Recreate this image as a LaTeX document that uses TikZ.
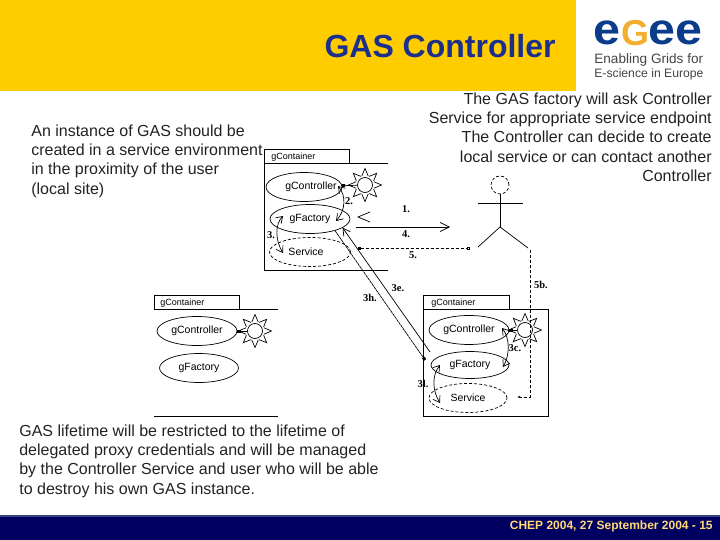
\documentclass[tikz,border=0pt]{standalone}
\usepackage{fontspec}
\setmainfont{Liberation Sans}
\newfontfamily\serifnum{Liberation Serif}
\usetikzlibrary{arrows.meta,shapes.geometric}
\definecolor{bandgold}{HTML}{FFCC00}
\definecolor{titleblue}{HTML}{1C2F8C}
\definecolor{footnavy}{HTML}{000060}
\definecolor{footline}{HTML}{3A3F86}
\definecolor{footgold}{HTML}{FFD878}
\definecolor{logoblue}{HTML}{0B3C8C}
\definecolor{logogold}{HTML}{F2AE30}
\definecolor{logogray}{HTML}{444444}
\definecolor{bodygray}{HTML}{222222}
\tikzset{
	bodytext/.style={font=\fontsize{16}{19.2}\selectfont,text=bodygray,inner sep=0pt},
	part/.style={draw,ellipse,minimum width=76pt,minimum height=29pt,inner sep=0pt,font=\fontsize{10.5}{12}\selectfont},
	partdash/.style={part,densely dashed},
	tabname/.style={anchor=west,inner sep=0pt,font=\fontsize{9}{10}\selectfont},
	steplabel/.style={inner sep=0pt,font=\serifnum\bfseries\fontsize{10.5}{12}\selectfont},
	sunball/.style={draw,circle,minimum size=15pt,inner sep=0pt},
	logoletter/.style={anchor=center,inner sep=0pt,font=\bfseries\fontsize{44}{44}\selectfont},
	logotext/.style={anchor=west,inner sep=0pt,text=logogray},
	barb/.style={-{Straight Barb[length=9pt,width=9pt]}},
	twobarb/.style={{Straight Barb[length=6pt,width=8pt]}-{Straight Barb[length=6pt,width=8pt]}}
}
\newcommand{\sunspikes}[1]{
	\foreach \a in {0,45,...,315}
		\draw[shift={(#1)}] (\a-20:9.5) -- (\a:16.5) -- (\a+20:9.5);
}
\begin{document}
\begin{tikzpicture}[x=1pt,y=-1pt,line width=0.7pt]
	\useasboundingbox (0,0) rectangle (720,540);
	% Kopf
	\fill[bandgold] (0,0) rectangle (576,91);
	\node[anchor=east,inner sep=0pt,text=titleblue,font=\bfseries\fontsize{32}{36}\selectfont] (title) at (556,46) {GAS Controller};
	% Logo
	\node[logoletter,text=logoblue,xscale=1.1] (logoA) at (607,33) {e};
	\node[logoletter,text=logogold,font=\bfseries\fontsize{36}{36}\selectfont] (logoB) at (635,33) {G};
	\node[logoletter,text=logoblue,xscale=1.1] (logoC) at (662,33) {e};
	\node[logoletter,text=logoblue,xscale=1.1] (logoD) at (689,33) {e};
	\node[logotext,font=\fontsize{13.6}{14}\selectfont] (logoE) at (594,60) {Enabling Grids for};
	\node[logotext,font=\fontsize{12.2}{14}\selectfont] (logoF) at (594,74) {E-science in Europe};
	% Texte
	\node[bodytext,anchor=north west,align=left] (textA) at (31,124.5) {An instance of GAS should be\\created in a service environment\\in the proximity of the user\\(local site)};
	\node[bodytext,anchor=north east,align=right] (textB) at (712,92.5) {The GAS factory will ask Controller\\Service for appropriate service endpoint\\The Controller can decide to create\\local service or can contact another\\Controller};
	\node[bodytext,anchor=north west,align=left] (textC) at (19,424.5) {GAS lifetime will be restricted to the lifetime of\\delegated proxy credentials and will be managed\\by the Controller Service and user who will be able\\to destroy his own GAS instance.};
	% Container
	\draw (264,270) -- (264,149) -- (349,149) -- (349,163);
	\draw (264,163) -- (388,163);
	\draw (264,270) -- (388,270);
	\draw (154,309) -- (154,295) -- (239,295) -- (239,309);
	\draw (154,309) -- (278,309);
	\draw (154,416) -- (278,416);
	\draw (423,309) -- (423,295) -- (509,295) -- (509,309);
	\draw (423,309) rectangle (548,416);
	\node[tabname] (tabA) at (271,157) {gContainer};
	\node[tabname] (tabB) at (160,303) {gContainer};
	\node[tabname] (tabC) at (431,303) {gContainer};
	% Ellipsen
	\node[part] (ctrlA) at (304,187) {\makebox[0pt]{\hspace{14pt}gController}};
	\node[part,minimum width=80pt] (factA) at (310,219) {gFactory};
	\node[partdash,minimum width=81pt] (servA) at (310,252) {\makebox[0pt]{\hspace{-8pt}Service}};
	\node[part,minimum width=80pt] (ctrlB) at (197,331) {gController};
	\node[part,minimum width=79pt] (factB) at (199,368) {gFactory};
	\node[part,minimum width=80pt] (ctrlC) at (469,330) {gController};
	\node[part,minimum width=78pt,minimum height=27pt] (factC) at (470,365) {gFactory};
	\node[partdash,minimum width=78pt] (servC) at (468,398) {Service};
	% Sonnen
	\node[sunball] (sunA) at (365,185) {};
	\node[sunball] (sunB) at (255,331) {};
	\node[sunball] (sunC) at (525,330) {};
	\sunspikes{365,185}
	\sunspikes{255,331}
	\sunspikes{525,330}
	\draw[-{Square[length=3pt]}] (sunA) -- (ctrlA);
	\draw[-{Square[length=3pt]}] (sunB) -- (ctrlB);
	\draw[-{Square[length=3pt]}] (sunC) -- (ctrlC);
	% Akteur
	\node[draw,densely dashed,circle,minimum size=18pt,inner sep=0pt] (head) at (500,185) {};
	\coordinate (hip) at (500,227);
	\coordinate (armL) at (478,203);
	\coordinate (armR) at (523,203);
	\coordinate (footL) at (478,247);
	\coordinate (footR) at (528,248);
	\draw (head) -- (hip);
	\draw (armL) -- (armR);
	\draw (footL) -- (hip) -- (footR);
	% Pfeile
	\coordinate (msgA) at (358,217);
	\coordinate (msgB) at (370,217);
	\coordinate (msgC) at (356,227);
	\coordinate (msgD) at (450,227);
	\coordinate (msgE) at (358,248);
	\coordinate (msgF) at (470,248);
	\draw (msgB)+(0,-5) -- (msgA) -- ++(12,5);
	\draw[barb] (msgC) -- (msgD);
	\draw[densely dashed,{Square[length=3pt]}-{Square[length=3pt,open]}] (msgE) -- (msgF);
	\coordinate (twoA) at (338,186);
	\coordinate (twoB) at (336,221);
	\coordinate (threeA) at (283,216);
	\coordinate (threeB) at (283,253);
	\coordinate (cA) at (502,328);
	\coordinate (cB) at (503,367);
	\coordinate (lA) at (440,365);
	\coordinate (lB) at (440,403);
	\draw[twobarb] (twoA) .. controls (346,195) and (346,210) .. (twoB);
	\draw[twobarb] (threeA) .. controls (275,224) and (275,240) .. (threeB);
	\draw[twobarb] (cA) .. controls (510,338) and (510,355) .. (cB);
	\draw[twobarb] (lA) .. controls (432,375) and (432,390) .. (lB);
	\coordinate (farB) at (425,360);
	\coordinate (farC) at (430,352);
	\draw[dash pattern=on 3pt off 0.6pt,-{Square[length=3pt]}] (factA.-25) -- (farB);
	\draw[{Straight Barb[length=7pt,width=8pt]}-] (factA.-15) -- (farC);
	% 5b
	\coordinate (legEnd) at (530,250);
	\coordinate (bendEnd) at (530,397);
	\coordinate (servEnd) at (517,397);
	\draw[densely dashed,-{Latex[length=3pt]}] (legEnd) -- (bendEnd) -- (servEnd);
	% Nummern
	\node[steplabel] (lblA) at (406,209) {1.};
	\node[steplabel] (lblB) at (349,201) {2.};
	\node[steplabel] (lblC) at (271,235) {3.};
	\node[steplabel] (lblD) at (406,234) {4.};
	\node[steplabel] (lblE) at (413,255) {5.};
	\node[steplabel] (lblF) at (398,288) {3e.};
	\node[steplabel] (lblG) at (370,298) {3h.};
	\node[steplabel] (lblH) at (541,285) {5b.};
	\node[steplabel] (lblI) at (515,348) {3c.};
	\node[steplabel] (lblJ) at (423,384) {3l.};
	% Fuss
	\fill[footnavy] (0,516) rectangle (720,540);
	\fill[footline] (0,515) rectangle (720,517);
	\node[anchor=east,inner sep=0pt,text=footgold,font=\bfseries\fontsize{12}{14}\selectfont] (foot) at (713,526) {CHEP 2004, 27 September 2004 - 15};
\end{tikzpicture}
\end{document}
